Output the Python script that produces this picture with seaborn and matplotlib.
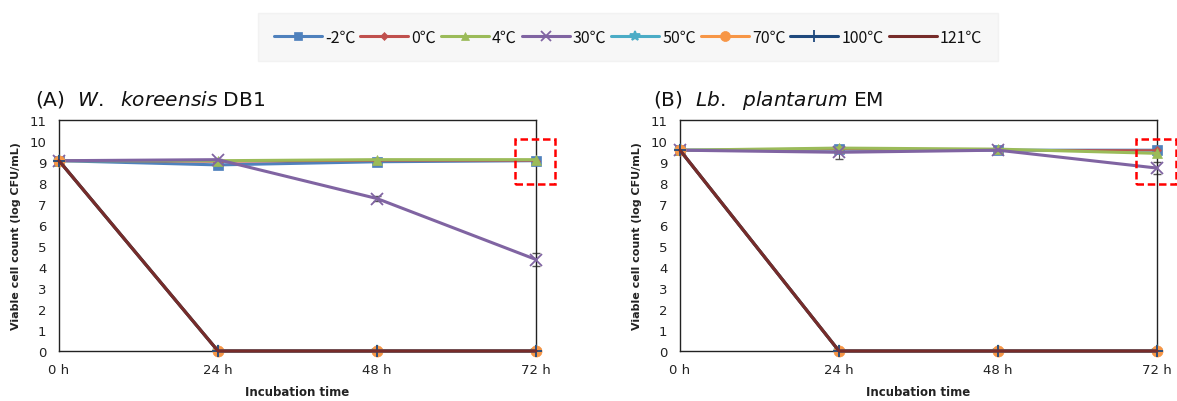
import matplotlib
matplotlib.use("Agg")
import matplotlib.pyplot as plt
from matplotlib.patches import Rectangle
from matplotlib.lines import Line2D
import seaborn as sns
import pandas as pd
import numpy as np

sns.set_theme(style="white")
plt.rcParams['font.family'] = ['DejaVu Sans', 'Noto Sans CJK KR']

times = [0, 24, 48, 72]
time_labels = ["0 h", "24 h", "48 h", "72 h"]
temps = ["-2℃", "0℃", "4℃", "30℃", "50℃", "70℃", "100℃", "121℃"]

# Panel A: W. koreensis DB1
a_m2 = [9.05, 8.85, 9.0, 9.05]
a_0 = [9.05, 9.0, 9.05, 9.05]
a_4 = [9.05, 9.05, 9.1, 9.1]
a_30 = [9.05, 9.1, 7.25, 4.35]
a_50 = [9.05, 0, 0, 0]
a_70 = [9.05, 0, 0, 0]
a_100 = [9.05, 0, 0, 0]
a_121 = [9.05, 0, 0, 0]
a_30_err = [0.0, 0.05, 0.1, 0.3]

# Panel B: Lb. plantarum EM
b_m2 = [9.55, 9.6, 9.55, 9.55]
b_0 = [9.55, 9.6, 9.55, 9.55]
b_4 = [9.55, 9.65, 9.6, 9.4]
b_30 = [9.55, 9.45, 9.55, 8.7]
b_50 = [9.55, 0, 0, 0]
b_70 = [9.55, 0, 0, 0]
b_100 = [9.55, 0, 0, 0]
b_121 = [9.55, 0, 0, 0]
b_30_err = [0.0, 0.3, 0.1, 0.3]

colors = ["#4F81BD", "#C0504D", "#9BBB59", "#8064A2", "#4BACC6", "#F79646", "#1F497D", "#772C2A"]
markers = ["s", "D", "^", "x", "*", "o", "+", None]
msizes = [7, 4.5, 7, 8, 8, 8, 9, 0]

def long_df(series):
    rows = []
    for t, vals in zip(temps, series):
        for x, v in zip(times, vals):
            rows.append({"temp": t, "time": x, "value": v})
    return pd.DataFrame(rows)

dfA = long_df([a_m2, a_0, a_4, a_30, a_50, a_70, a_100, a_121])
dfB = long_df([b_m2, b_0, b_4, b_30, b_50, b_70, b_100, b_121])

fig = plt.figure(figsize=(11.77, 4.02), dpi=100)
axA = fig.add_axes([59/1177, 1-352/402, 477/1177, (352-120.7)/402])
axB = fig.add_axes([680/1177, 1-352/402, 477/1177, (352-120.7)/402])

def mew(m):
    return 1.3 if m in ("x", "+", "*") else 0.5

def draw(ax, df, vals30, err30):
    for i, t in enumerate(temps):
        sub = df[df["temp"] == t]
        lw = 2.2 if i != 1 else 1.4
        sns.lineplot(data=sub, x="time", y="value", ax=ax, color=colors[i],
                     marker=markers[i], markersize=msizes[i], linewidth=lw,
                     markeredgecolor=colors[i], markeredgewidth=mew(markers[i]),
                     clip_on=False, zorder=3 + i, legend=False)
    ax.errorbar(times, vals30, yerr=err30, fmt="none", ecolor="#555555",
                elinewidth=0.8, capsize=3, zorder=2, clip_on=False)
    ax.set_xlim(0, 72)
    ax.set_ylim(0, 11)
    ax.set_xticks(times)
    ax.set_xticklabels(time_labels)
    ax.set_yticks(range(0, 12))
    ax.tick_params(axis="both", labelsize=9.5, colors="#222222", length=4, width=0.8,
                   direction="in")
    ax.tick_params(axis="y", pad=9)
    ax.tick_params(axis="x", pad=9)
    for s in ax.spines.values():
        s.set_color("#222222")
        s.set_linewidth(1.0)
    ax.set_xlabel("Incubation time", fontsize=8.5, fontweight="bold", labelpad=6, color="#222222")
    ax.set_ylabel("Viable cell count (log CFU/mL)", fontsize=8, fontweight="bold", labelpad=6, color="#222222")
    rect = Rectangle((68.8, 7.95), 6.0, 2.12, fill=False, edgecolor="red",
                     linestyle=(0, (3, 1.5)), linewidth=1.8, clip_on=False, zorder=20)
    ax.add_patch(rect)

draw(axA, dfA, a_30, a_30_err)
draw(axB, dfB, b_30, b_30_err)

fig.text(35/1177, 1-106/402, r"(A)  $\it{W.}$  $\it{koreensis}$ DB1", fontsize=14.5, ha="left", va="baseline", color="#111111")
fig.text(653/1177, 1-106/402, r"(B)  $\it{Lb.}$  $\it{plantarum}$ EM", fontsize=14.5, ha="left", va="baseline", color="#111111")

handles = []
for i, t in enumerate(temps):
    handles.append(Line2D([0], [0], color=colors[i], marker=markers[i], markersize=msizes[i] * 0.9,
                          linewidth=2.2, markeredgecolor=colors[i],
                          markeredgewidth=mew(markers[i]), label=t))
leg = fig.legend(handles=handles, loc="center", bbox_to_anchor=(628/1177, 1-38/402), ncol=8,
                 frameon=True, handlelength=3.0, columnspacing=0.3,
                 handletextpad=0.2, borderpad=0.7,
                 prop={"family": ["Noto Sans CJK KR", "DejaVu Sans"], "size": 11.5})
for txt in leg.get_texts():
    txt.set_color("#111111")
leg.get_frame().set_facecolor("#f6f6f6")
leg.get_frame().set_edgecolor("#f0f0f0")
leg.get_frame().set_boxstyle("square")

fig.savefig("out.png", dpi=100)
